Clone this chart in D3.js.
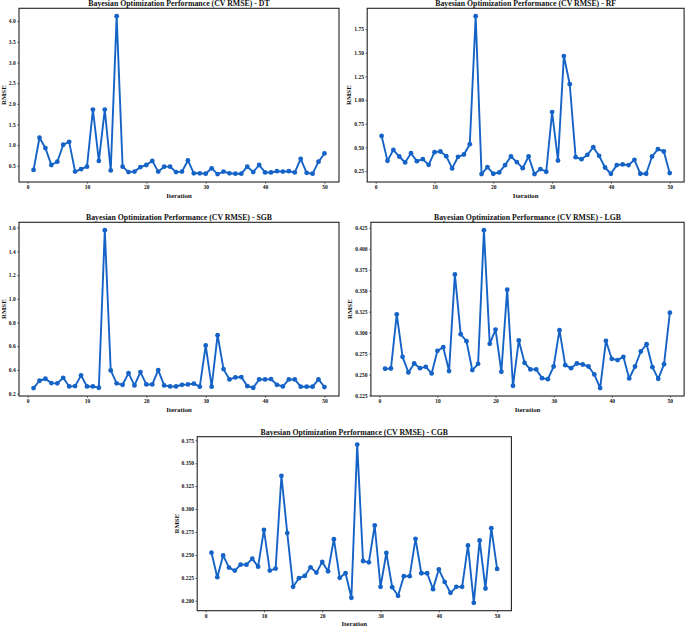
<!DOCTYPE html>
<html>
<head>
<meta charset="utf-8">
<script src="https://cdn.jsdelivr.net/npm/d3@7"></script>
<style>
  body { margin: 0; background: #fff; }
  svg { display: block; }
  text { font-family: "Liberation Serif", "Times New Roman", serif; font-weight: bold; fill: #111; }
</style>
</head>
<body>
<svg id="chart"></svg>
<script>
const width = 685;
const height = 626;

const iterations = d3.range(1, 51);
const xTicks = [0, 10, 20, 30, 40, 50];

const rmseDT = [0.40, 1.18, 0.93, 0.52, 0.60, 1.01, 1.08, 0.36, 0.42, 0.48,
                1.86, 0.62, 1.86, 0.39, 4.12, 0.48, 0.35, 0.36, 0.47, 0.52,
                0.62, 0.36, 0.48, 0.48, 0.35, 0.36, 0.63, 0.32, 0.32, 0.31,
                0.44, 0.30, 0.36, 0.32, 0.31, 0.31, 0.48, 0.35, 0.52, 0.34,
                0.34, 0.37, 0.36, 0.37, 0.34, 0.67, 0.33, 0.31, 0.60, 0.80];

const rmseRF = [0.621, 0.358, 0.474, 0.404, 0.341, 0.439, 0.355, 0.376, 0.316, 0.450,
                0.457, 0.408, 0.278, 0.401, 0.425, 0.534, 1.887, 0.218, 0.292, 0.222,
                0.236, 0.313, 0.404, 0.345, 0.281, 0.404, 0.218, 0.271, 0.243, 0.874,
                0.362, 1.466, 1.168, 0.397, 0.376, 0.422, 0.502, 0.411, 0.288, 0.222,
                0.313, 0.320, 0.313, 0.369, 0.222, 0.222, 0.404, 0.481, 0.457, 0.229];

const rmseSGB = [0.247, 0.309, 0.326, 0.289, 0.287, 0.334, 0.261, 0.264, 0.354, 0.261,
                 0.261, 0.250, 1.578, 0.396, 0.287, 0.275, 0.373, 0.270, 0.382, 0.278,
                 0.278, 0.399, 0.270, 0.261, 0.261, 0.275, 0.278, 0.284, 0.259, 0.606,
                 0.259, 0.693, 0.407, 0.320, 0.337, 0.340, 0.264, 0.250, 0.320, 0.320,
                 0.323, 0.275, 0.261, 0.320, 0.320, 0.259, 0.259, 0.259, 0.320, 0.256];

const rmseLGB = [0.2568, 0.2571, 0.3218, 0.2710, 0.2524, 0.2631, 0.2575, 0.2591, 0.2512, 0.2782,
                 0.2825, 0.2540, 0.3694, 0.2980, 0.2897, 0.2552, 0.2627, 0.4222, 0.2865, 0.3036,
                 0.2532, 0.3512, 0.2365, 0.2905, 0.2639, 0.2560, 0.2560, 0.2456, 0.2444, 0.2595,
                 0.3028, 0.2611, 0.2575, 0.2631, 0.2619, 0.2595, 0.2500, 0.2337, 0.2901, 0.2687,
                 0.2671, 0.2710, 0.2452, 0.2595, 0.2774, 0.2861, 0.2587, 0.2448, 0.2623, 0.3238];

const rmseCGB = [0.2524, 0.2257, 0.2495, 0.2362, 0.2329, 0.2394, 0.2394, 0.2459, 0.2372, 0.2774,
                 0.2329, 0.2351, 0.3363, 0.2738, 0.2152, 0.2246, 0.2271, 0.2365, 0.2307, 0.2423,
                 0.2322, 0.2672, 0.2250, 0.2300, 0.2033, 0.3703, 0.2434, 0.2419, 0.2821, 0.2152,
                 0.2521, 0.2148, 0.2054, 0.2268, 0.2268, 0.2676, 0.2300, 0.2300, 0.2127, 0.2343,
                 0.2206, 0.2087, 0.2152, 0.2152, 0.2604, 0.1978, 0.2658, 0.2134, 0.2792, 0.2347];

const yTicksDT = [0.5, 1.0, 1.5, 2.0, 2.5, 3.0, 3.5, 4.0];
const yTicksRF = [0.25, 0.50, 0.75, 1.00, 1.25, 1.50, 1.75];
const yTicksSGB = [0.2, 0.4, 0.6, 0.8, 1.0, 1.2, 1.4, 1.6];
const yTicksLGB = [0.225, 0.250, 0.275, 0.300, 0.325, 0.350, 0.375, 0.400, 0.425];
const yTicksCGB = [0.200, 0.225, 0.250, 0.275, 0.300, 0.325, 0.350, 0.375];

const titlePrefix = "Bayesian Optimization Performance (CV RMSE) - ";

const panels = [
  { name: "DT",  values: rmseDT,  ticks: yTicksDT,  fmt: ".1f", box: [19, 339, 8.3, 182] },
  { name: "RF",  values: rmseRF,  ticks: yTicksRF,  fmt: ".2f", box: [367.2, 684.1, 8.3, 182] },
  { name: "SGB", values: rmseSGB, ticks: yTicksSGB, fmt: ".1f", box: [19, 339, 222.3, 396] },
  { name: "LGB", values: rmseLGB, ticks: yTicksLGB, fmt: ".3f", box: [370.9, 684.1, 222.3, 396] },
  { name: "CGB", values: rmseCGB, ticks: yTicksCGB, fmt: ".3f", box: [197.2, 511.4, 436.7, 610.7] }
];

const lineColor = "#1563c6";

const svg = d3.select("#chart")
  .attr("width", width)
  .attr("height", height);

panels.forEach(p => {
  const [x0, x1, y0, y1] = p.box;
  const g = svg.append("g");

  // matplotlib style 5% margins
  const xPad = 0.05 * (d3.max(iterations) - d3.min(iterations));
  const x = d3.scaleLinear()
    .domain([d3.min(iterations) - xPad, d3.max(iterations) + xPad])
    .range([x0, x1]);
  const [lo, hi] = d3.extent(p.values);
  const yPad = 0.05 * (hi - lo);
  const y = d3.scaleLinear()
    .domain([lo - yPad, hi + yPad])
    .range([y1, y0]);

  const xAxis = g.append("g")
    .attr("transform", `translate(0,${y1})`)
    .call(d3.axisBottom(x).tickValues(xTicks).tickSize(1.8).tickPadding(1.5).tickFormat(d3.format("d")));
  const yAxis = g.append("g")
    .attr("transform", `translate(${x0},0)`)
    .call(d3.axisLeft(y).tickValues(p.ticks).tickSize(1.8).tickPadding(1.5).tickFormat(d3.format(p.fmt)));

  [xAxis, yAxis].forEach(a => {
    a.select(".domain").remove();
    a.selectAll(".tick line").attr("stroke", "#333").attr("stroke-width", 0.7);
    a.selectAll(".tick text")
      .style("font-family", "'Liberation Serif', serif")
      .style("font-weight", "bold")
      .style("font-size", "5.5px")
      .attr("fill", "#222");
  });

  // y label placed left of the widest tick label
  let maxW = 0;
  yAxis.selectAll(".tick text").each(function() {
    maxW = Math.max(maxW, this.getBBox().width);
  });

  g.append("text")
    .attr("transform", `translate(${x0 - 3.3 - maxW - 5},${(y0 + y1) / 2}) rotate(-90)`)
    .attr("text-anchor", "middle")
    .attr("dy", "0.35em")
    .style("font-size", "6.8px")
    .text("RMSE");

  g.append("text")
    .attr("x", (x0 + x1) / 2)
    .attr("y", y1 + 15.5)
    .attr("text-anchor", "middle")
    .style("font-size", "6.8px")
    .text("Iteration");

  g.append("text")
    .attr("x", (x0 + x1) / 2)
    .attr("y", y0 - 1.9)
    .attr("text-anchor", "middle")
    .style("font-size", "7.8px")
    .text(titlePrefix + p.name);

  const line = d3.line()
    .x((d, i) => x(iterations[i]))
    .y(d => y(d));

  g.append("path")
    .datum(p.values)
    .attr("fill", "none")
    .attr("stroke", lineColor)
    .attr("stroke-width", 1.9)
    .attr("stroke-linejoin", "round")
    .attr("d", line);

  g.selectAll("circle")
    .data(p.values)
    .join("circle")
    .attr("cx", (d, i) => x(iterations[i]))
    .attr("cy", d => y(d))
    .attr("r", 2.4)
    .attr("fill", lineColor);

  g.append("rect")
    .attr("x", x0)
    .attr("y", y0)
    .attr("width", x1 - x0)
    .attr("height", y1 - y0)
    .attr("fill", "none")
    .attr("stroke", "#222")
    .attr("stroke-width", 1.1);
});
</script>
</body>
</html>
